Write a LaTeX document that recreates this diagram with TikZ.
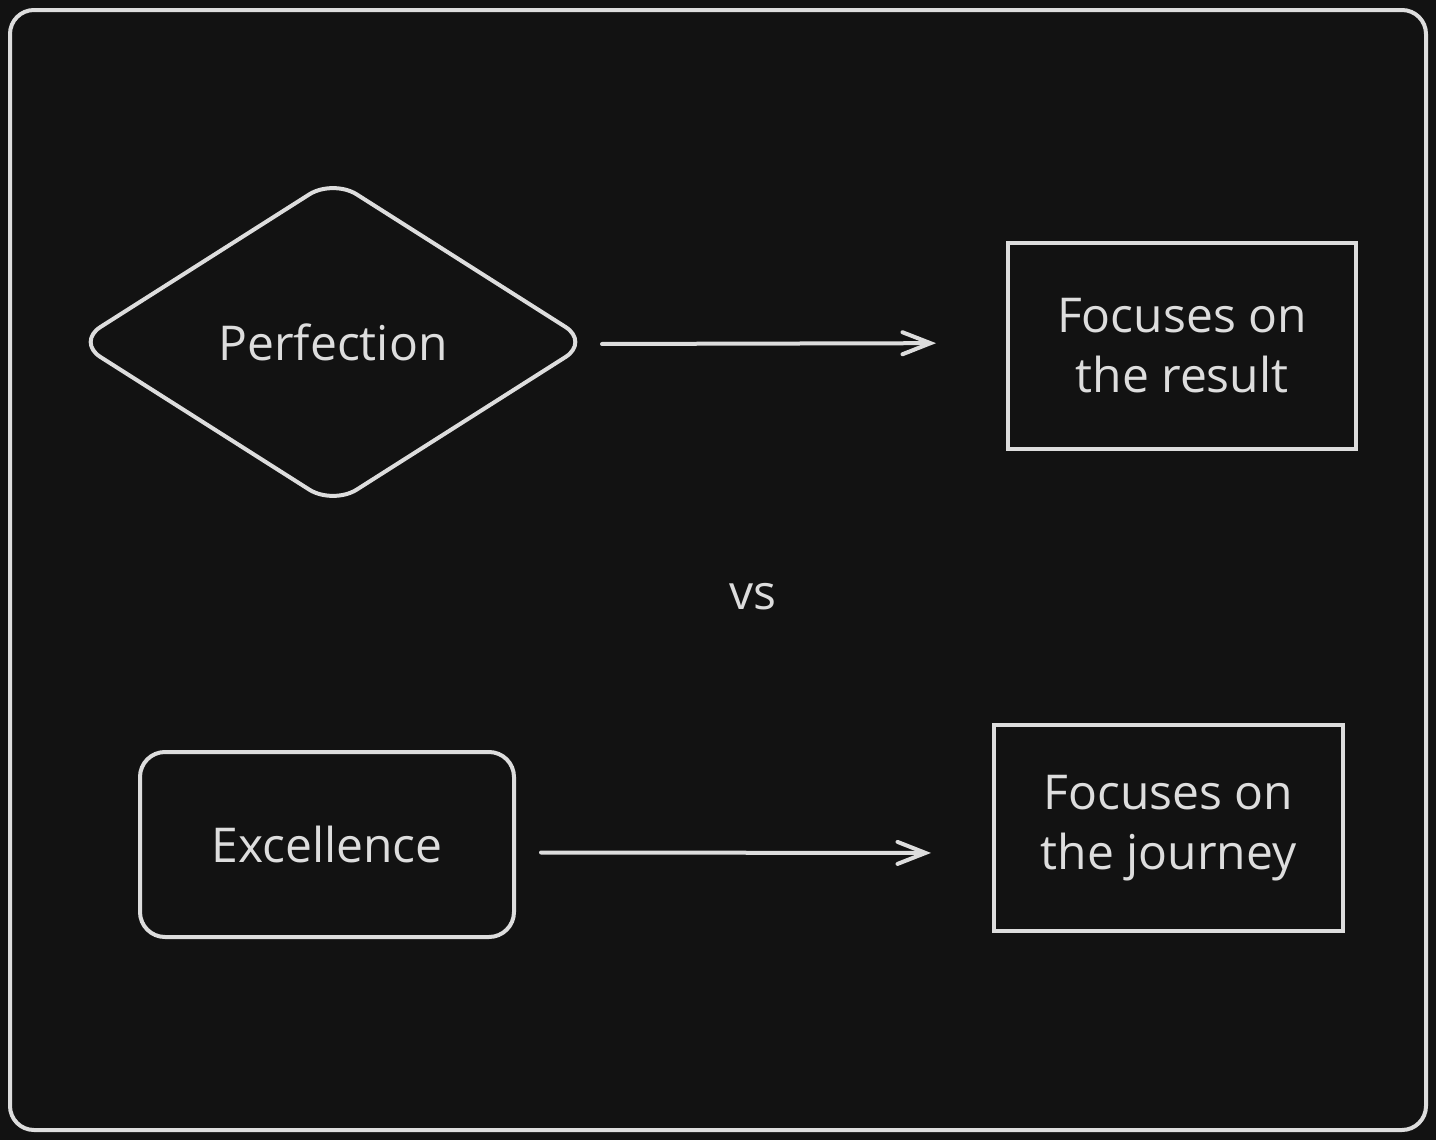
\documentclass[tikz,border=0pt]{standalone}
\usepackage{fontspec}
\setmainfont{Open Sans}
\usetikzlibrary{shapes.geometric,arrows.meta}
\definecolor{bg}{HTML}{121212}
\definecolor{ink}{HTML}{DDDDDD}
\tikzset{
  shape line/.style={draw=ink, line width=2pt},
  lbl/.style={text=ink, font=\fontsize{24pt}{30pt}\selectfont, align=center, inner sep=0pt},
  arr/.style={draw=ink, line width=2pt, line cap=round, -{Straight Barb[length=14pt,width=11pt,line cap=round]}},
}
\begin{document}
\begin{tikzpicture}[x=0.5pt,y=-0.5pt]
\fill[bg] (0,0) rectangle (1436,1140);
\useasboundingbox (0,0) rectangle (1436,1140);
\draw[shape line, rounded corners=12pt] (10,10) rectangle (1426,1130);

\node[shape line, lbl, diamond, rounded corners=14pt, minimum width=257pt, minimum height=163.5pt] (perf) at (333,342) {Perfection};
\node[shape line, lbl, rectangle, minimum width=174pt, minimum height=103pt] (res) at (1182,346) {Focuses on\\the result};

\node[lbl] (vs) at (753,597) {vs};

\node[shape line, lbl, rectangle, rounded corners=12.5pt, minimum width=187pt, minimum height=92.5pt] (exc) at (327,844.5) {Excellence};
\node[shape line, lbl, rectangle, minimum width=174.5pt, minimum height=103pt] (jour) at (1168.5,828) {Focuses on\\the journey};

\draw[arr, shorten <=5pt, shorten >=35pt] ([yshift=-1pt]perf.east) -- ([yshift=1.5pt]res.west);
\draw[arr, shorten <=12.5pt, shorten >=30.5pt] ([yshift=-4pt]exc.east) -- ([yshift=-12.5pt]jour.west);
\end{tikzpicture}
\end{document}
